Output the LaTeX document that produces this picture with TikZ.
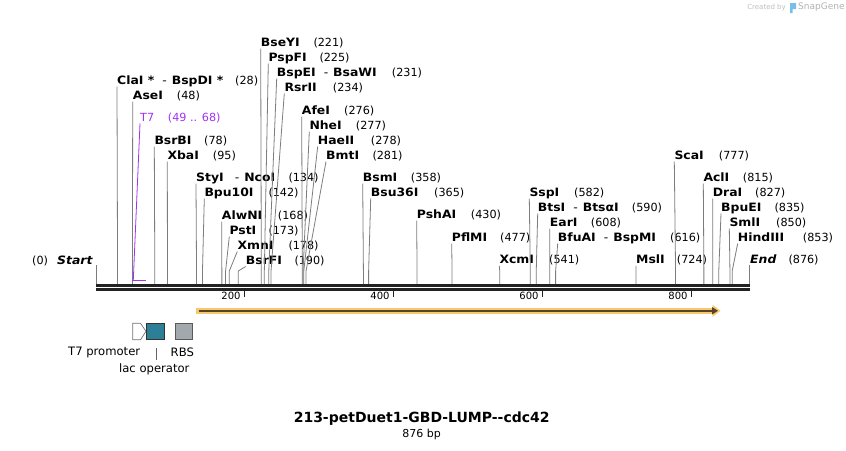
\documentclass[tikz,border=0pt]{standalone}
\usepackage{fontspec}
\setmainfont{DejaVu Sans}
\newfontfamily\enzfont{DejaVu Sans}[FakeStretch=1.08]
\usetikzlibrary{arrows.meta}
\definecolor{cutgray}{RGB}{125,125,125}
\definecolor{tpurple}{RGB}{160,50,240}
\definecolor{orangefill}{RGB}{248,200,110}
\definecolor{orangedark}{RGB}{85,68,40}
\definecolor{lacteal}{RGB}{45,127,152}
\definecolor{rbsgray}{RGB}{163,168,173}
\definecolor{axisdark}{RGB}{34,34,34}
\definecolor{sgblue}{RGB}{120,190,235}
\newcommand\site[6]{% #1 name, #2 label x, #3 label y, #4 number x, #5 number, #6 bp
  \node[enzname] (e#5) at ({#2},{#3+4.2}) {#1};
  \node[enznum] (p#5) at ({#4},{#3+4.2}) {(#5)};
  \coordinate (t#5) at ({#2},{#3+6.5});
  \coordinate (k#5) at ({96.7+0.745*#6},271);
  \coordinate (a#5) at ({96.7+0.745*#6},284);
  \draw[cutline] (t#5) -- (k#5) -- (a#5);
}
\newcommand\dsh{\hspace*{8pt}{\mdseries -}\hspace*{5pt}}
\begin{document}
\begin{tikzpicture}[x=1pt,y=-1pt,
  enzname/.style={anchor=base west,inner sep=0pt,font=\fontsize{11.5}{13}\enzfont\bfseries},
  enznum/.style={anchor=base west,inner sep=0pt,font=\fontsize{11.2}{13}\selectfont},
  cutline/.style={draw=cutgray,line width=0.8pt},
  axisline/.style={draw=axisdark,line width=2.7pt},
  tickmark/.style={draw=axisdark,line width=1.6pt},
  ticklabel/.style={anchor=base east,inner sep=0pt,font=\fontsize{10}{12}\selectfont},
  featlabel/.style={inner sep=0pt,font=\fontsize{11.6}{13}\selectfont},
  t7style/.style={anchor=base west,inner sep=0pt,text=tpurple,font=\fontsize{11.2}{13}\selectfont}]
\useasboundingbox[fill=white] (0,0) rectangle (846,450);

% watermark
\node[anchor=east,inner sep=0pt,text=black!25,font=\fontsize{7}{8}\selectfont] (cb) at (786,7.5) {Created by};
\fill[sgblue] (790,3) -- (796,3) -- (796,9) -- (792.5,9) -- (792.5,13) -- (790,13) -- cycle;
\node[anchor=west,inner sep=0pt,text=black!30,font=\fontsize{9}{10}\selectfont] (sg) at (798,7.5) {SnapGene};

% start / end
\node[anchor=base west,inner sep=0pt,font=\fontsize{11.2}{13}\selectfont] (p0) at (32,264.2) {(0)};
\node[anchor=base west,inner sep=0pt,font=\fontsize{11.5}{13}\enzfont\bfseries\itshape] (st) at (57,264.2) {Start};
\coordinate (st1) at (96.7,265); \coordinate (st2) at (96.7,284);
\draw[cutline] (st1) -- (st2);
\node[anchor=base west,inner sep=0pt,font=\fontsize{11.5}{13}\enzfont\bfseries\itshape] (en) at (750,263.5) {End};
\node[anchor=base west,inner sep=0pt,font=\fontsize{11.2}{13}\selectfont] (p876) at (788.3,263.5) {(876)};
\coordinate (en1) at (749.3,265); \coordinate (en2) at (749.3,284);
\draw[cutline] (en1) -- (en2);

% sites
\site{ClaI *\dsh BspDI *}{117}{80}{235}{28}{28}
\site{AseI}{132.7}{95}{176.7}{48}{48}
\site{BsrBI}{154.3}{140}{204}{78}{78}
\site{XbaI}{167.3}{155}{212.7}{95}{95}
\site{StyI\hspace*{3pt}\dsh NcoI}{196}{177}{288.3}{134}{134}
\site{Bpu10I}{204.3}{192}{268.3}{142}{142}
\site{AlwNI}{221.7}{215}{277.7}{168}{168}
\site{PstI}{229.3}{230}{268.3}{173}{173}
\site{XmnI}{237.3}{245}{288.3}{178}{178}
\site{BsrFI}{245.7}{260}{294.3}{190}{190}
\site{BseYI}{260.7}{42}{313.3}{221}{221}
\site{PspFI}{268.3}{57}{319.3}{225}{225}
\site{BspEI\dsh BsaWI}{276.7}{72}{391.7}{231}{231}
\site{RsrII}{284.3}{87}{332.7}{234}{234}
\site{AfeI}{301.7}{110}{344}{276}{276}
\site{NheI}{309.3}{125}{355.7}{277}{277}
\site{HaeII}{317.7}{140}{370.7}{278}{278}
\site{BmtI}{326}{155}{372.3}{281}{281}
\site{BsmI}{362.7}{177}{410.7}{358}{358}
\site{Bsu36I}{370.7}{192}{434}{365}{365}
\site{PshAI}{416.7}{214}{470.7}{430}{430}
\site{PflMI}{451.7}{237}{500}{477}{477}
\site{XcmI}{499.3}{259.3}{549}{541}{541}
\site{SspI}{529.3}{192}{574}{582}{582}
\site{BtsI\dsh BtsαI}{537.7}{207}{631.7}{590}{590}
\site{EarI}{549.7}{222}{590.7}{608}{608}
\site{BfuAI\dsh BspMI}{557.7}{237}{670}{616}{616}
\site{MslI}{636}{259.3}{676.7}{724}{724}
\site{ScaI}{674.3}{155}{718.7}{777}{777}
\site{AclI}{703.3}{177}{742.7}{815}{815}
\site{DraI}{712.7}{192}{755}{827}{827}
\site{BpuEI}{721}{207}{774.3}{835}{835}
\site{SmlI}{729.3}{222}{776}{850}{850}
\site{HindIII}{737.7}{237}{802.7}{853}{853}

% T7 feature
\node[t7style] (t7) at (140,121.2) {T7};
\node[t7style] (t7n) at (167.7,121.2) {(49 .. 68)};
\coordinate (t7a) at (140,123.5); \coordinate (t7b) at (133.3,280);
\coordinate (t7c) at (132.3,280.3); \coordinate (t7d) at (145.7,280.3);
\draw[tpurple,line width=0.8pt] (t7a) -- (t7b);
\draw[tpurple,line width=1.6pt] (t7c) -- (t7d);

% axis
\coordinate (ax0) at (96,285.6); \coordinate (ax1) at (750,285.6);
\coordinate (bx0) at (96,289.6); \coordinate (bx1) at (750,289.6);
\draw[axisline] (ax0) -- (ax1);
\draw[axisline] (bx0) -- (bx1);
\foreach \v in {200,400,600,800}{
  \coordinate (tk\v) at ({96.7+0.745*\v-1.3},291);
  \coordinate (tl\v) at ({96.7+0.745*\v-1.3},297.3);
  \draw[tickmark] (tk\v) -- (tl\v);
  \node[ticklabel] (tn\v) at ({96.7+0.745*\v-5},299) {\v};
}

% ORF arrow
\coordinate (f0) at (196,310.8); \coordinate (f1) at (720.5,310.8);
\coordinate (g0) at (198.5,310.8); \coordinate (g1) at (718,310.8);
\draw[orangefill,line width=5.6pt,-{Triangle[length=8pt,width=11.5pt]}] (f0) -- (f1);
\draw[orangedark,line width=1.4pt,-{Triangle[length=6pt,width=7pt]}] (g0) -- (g1);

% bottom features
\draw[draw=black!55,fill=white,line width=0.7pt] (132.7,323.3) -- (140.5,323.3) -- (146,331.3) -- (140.5,339.8) -- (132.7,339.8) -- cycle;
\node[draw=black!80,fill=lacteal,line width=0.7pt,minimum width=17.6pt,minimum height=16pt,inner sep=0pt] (lac) at (155.5,331.3) {};
\node[draw=black!65,fill=rbsgray,line width=0.7pt,minimum width=17.4pt,minimum height=16pt,inner sep=0pt] (rbs) at (184,331.3) {};
\node[featlabel] (t7p) at (104.2,352.7) {T7 promoter};
\node[featlabel] (rbsl) at (182.3,352.7) {RBS};
\node[featlabel] (lacl) at (154.3,369.3) {lac operator};
\coordinate (lq1) at (156,347.7); \coordinate (lq2) at (156,360);
\draw[draw=black!60,line width=0.7pt] (lq1) -- (lq2);

% title
\node[inner sep=0pt,font=\fontsize{14}{16}\selectfont\bfseries] (title) at (421.7,419) {213-petDuet1-GBD-LUMP-{}-cdc42};
\node[inner sep=0pt,font=\fontsize{11}{13}\selectfont] (bp) at (421.7,434.5) {876 bp};
\end{tikzpicture}
\end{document}
